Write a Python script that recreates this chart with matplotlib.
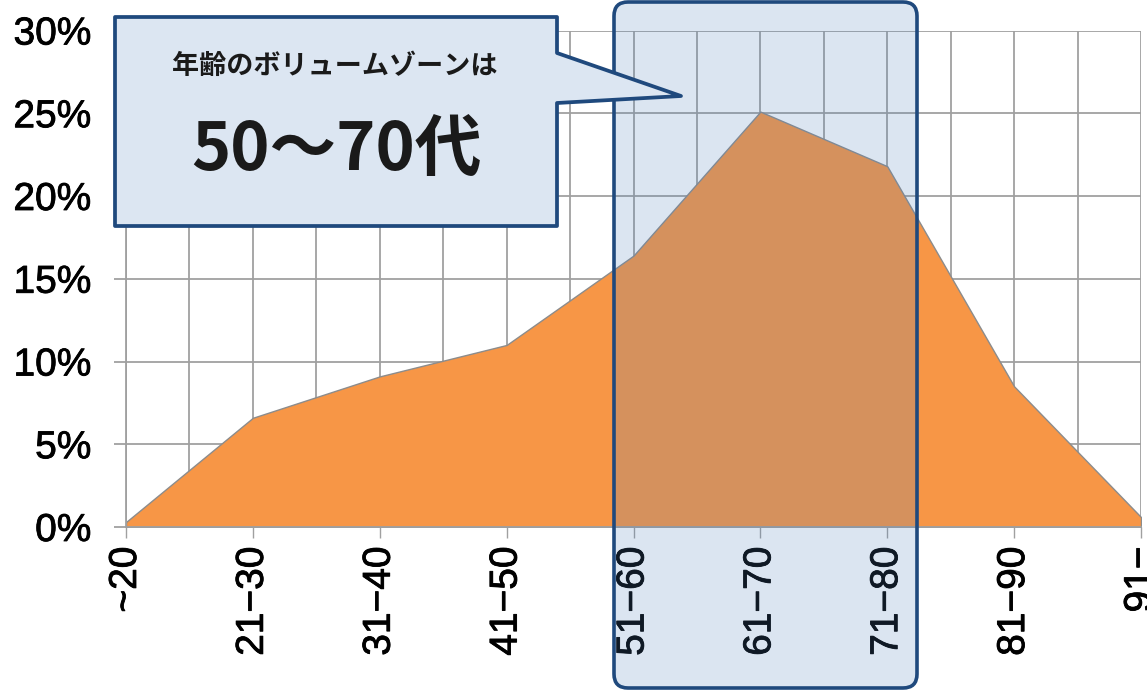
import matplotlib
matplotlib.use("Agg")
import matplotlib.pyplot as plt
import matplotlib.patheffects as pe
from matplotlib.patches import FancyBboxPatch, Polygon
from matplotlib.transforms import IdentityTransform
from matplotlib.ticker import FuncFormatter

# Age distribution (share of members by age band)
age_bands = ["~20", "21−30", "31−40", "41−50", "51−60", "61−70", "71−80", "81−90", "91−"]
shares = [0.003, 0.066, 0.091, 0.110, 0.164, 0.251, 0.218, 0.085, 0.006]
y_ticks = [0.0, 0.05, 0.10, 0.15, 0.20, 0.25, 0.30]

callout_line1 = "年齢のボリュームゾーンは"
callout_line2 = "50〜70代"

W, H, DPI = 1147, 690, 100
fig = plt.figure(figsize=(W / DPI, H / DPI), dpi=DPI)
fig.patch.set_facecolor("white")

ax = fig.add_axes([126 / W, 163 / H, 1015 / W, 496.5 / H])
x = list(range(len(age_bands)))
ax.fill_between(x, shares, 0, facecolor="#F79646", edgecolor="#8C8C8C",
                linewidth=1.0, zorder=2)

ax.set_xlim(0, len(age_bands) - 1)
ax.set_ylim(0, 0.30)
ax.set_xticks(x)
ax.set_xticklabels(age_bands)
ax.set_xticks([i + 0.5 for i in x[:-1]], minor=True)
ax.set_yticks(y_ticks)
ax.yaxis.set_major_formatter(FuncFormatter(lambda v, _: f"{v * 100:.0f}%"))

grid_c = "#A0A0A0"
ax.grid(True, which="both", axis="x", color=grid_c, linewidth=1.3, zorder=1)
ax.grid(True, which="major", axis="y", color=grid_c, linewidth=1.3, zorder=1)
ax.set_axisbelow(True)
for side, sp in ax.spines.items():
    sp.set_color(grid_c)
    sp.set_linewidth(1.3)
ax.spines["top"].set_visible(False)
ax.spines["right"].set_visible(False)

ax.tick_params(axis="x", which="major", length=8, width=1.0, color=grid_c,
               pad=6, labelrotation=90)
ax.tick_params(axis="x", which="minor", length=0)
ax.tick_params(axis="y", length=9, width=1.3, color=grid_c, pad=16)
heavy = [pe.withStroke(linewidth=0.6, foreground="black")]
for lab in ax.get_xticklabels() + ax.get_yticklabels():
    lab.set_fontfamily(["Liberation Sans", "DejaVu Sans"])
    lab.set_fontweight("normal")
    lab.set_fontsize(28)
    lab.set_color("black")
    lab.set_path_effects(heavy)

# Translucent highlight over the 50s–70s bands
hl = FancyBboxPatch((614, H - 688), 303, 686,
                    boxstyle="round,pad=0,rounding_size=14",
                    transform=IdentityTransform(),
                    facecolor=(79 / 255, 129 / 255, 189 / 255, 0.2),
                    edgecolor="#1F497D", linewidth=2.6, zorder=5)
fig.add_artist(hl)

# Speech-bubble callout (pixel coordinates, origin at bottom-left)
def px(xp, yp):
    return (xp, H - yp)

bubble = Polygon([px(115, 17), px(557, 17), px(557, 53), px(681, 96),
                  px(557, 103), px(557, 226), px(115, 226)],
                 closed=True, transform=IdentityTransform(),
                 facecolor="#DCE6F2", edgecolor="#1F497D", linewidth=2.7,
                 joinstyle="round", zorder=6)
fig.add_artist(bubble)

jp = ["Noto Sans CJK JP", "DejaVu Sans"]
fig.text(335 / W, 1 - 66 / H, callout_line1, ha="center", va="center",
         fontsize=19.5, fontweight="bold", family=jp, color="#1A1A1A", zorder=7)
fig.text(336 / W, 1 - 150 / H, callout_line2, ha="center", va="center",
         fontsize=48, fontweight="bold", family=jp, color="#1A1A1A", zorder=7)

fig.savefig("out.png", dpi=DPI, facecolor="white")
